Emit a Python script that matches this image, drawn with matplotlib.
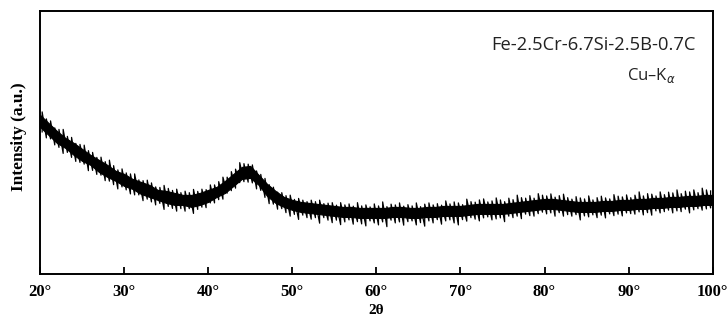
import numpy as np
import matplotlib.pyplot as plt

# XRD pattern (1 degree steps, arbitrary intensity units)
two_theta = np.arange(20, 101)
centre = [153, 145, 137, 131, 125, 119, 114, 108, 103, 98,
          94, 90, 86, 83, 79, 77, 75, 74, 73, 75,
          78, 82, 87, 94, 101, 102, 94, 84, 77, 72,
          69, 67, 66, 65, 64, 63, 62, 62, 61, 61,
          61, 61, 62, 62, 61, 61, 62, 62, 63, 63,
          63, 64, 65, 65, 65, 65, 66, 67, 68, 69,
          70, 70, 69, 68, 67, 67, 67, 68, 68, 69,
          69, 70, 70, 71, 71, 72, 72, 73, 73, 74, 74]
core_halfwidth = [6, 6, 6, 5, 6, 6, 5, 6, 6, 5,
                  6, 5, 6, 6, 5, 6, 6, 5, 6, 6,
                  6, 5, 6, 6, 6, 6, 5, 6, 6, 5,
                  5, 5, 5, 5, 5, 5, 5, 5, 5, 5,
                  5, 5, 5, 5, 5, 5, 5, 5, 5, 5,
                  5, 5, 5, 5, 5, 5, 5, 5, 5, 5,
                  5, 5, 5, 5, 5, 5, 5, 5, 5, 5,
                  5, 5, 5, 5, 5, 5, 5, 5, 5, 5, 5]

# noise spikes every 0.5 deg (20.25 .. 99.75): how far they reach above / below
noise_x = np.arange(20.25, 100, 0.5)
noise_up = [11, 8, 10, 7, 9, 12, 8, 10, 7, 9, 11, 8, 9, 7, 10, 8, 12, 9, 7, 10,
            8, 9, 11, 7, 8, 10, 9, 7, 8, 11, 9, 8, 10, 7, 9, 8, 11, 8, 9, 7,
            10, 8, 9, 11, 8, 10, 9, 12, 9, 8, 9, 7, 8, 9, 7, 8, 6, 8, 7, 9,
            6, 8, 7, 6, 8, 7, 9, 6, 7, 8, 6, 9, 7, 8, 6, 10, 7, 8, 6, 9,
            7, 11, 6, 8, 7, 9, 6, 8, 7, 10, 6, 8, 9, 7, 8, 6, 10, 7, 9, 8,
            6, 11, 8, 7, 9, 10, 7, 8, 11, 9, 7, 10, 8, 12, 9, 8, 10, 7, 11, 9,
            8, 10, 7, 9, 11, 8, 7, 10, 9, 8, 11, 7, 9, 10, 8, 7, 11, 9, 8, 10,
            7, 9, 12, 8, 10, 9, 7, 11, 8, 10, 9, 12, 8, 10, 9, 11, 8, 12, 10, 9]
noise_dn = [9, 11, 8, 10, 9, 12, 8, 10, 11, 9, 8, 12, 9, 10, 8, 11, 9, 10, 12, 8,
            9, 11, 10, 8, 12, 9, 10, 11, 8, 13, 9, 10, 12, 9, 11, 8, 13, 10, 9, 11,
            8, 10, 9, 11, 8, 9, 10, 8, 9, 10, 9, 11, 8, 10, 12, 9, 11, 8, 10, 12,
            9, 13, 8, 10, 11, 9, 14, 8, 10, 12, 9, 13, 10, 8, 12, 9, 11, 13, 8, 10,
            12, 9, 14, 8, 11, 10, 13, 9, 8, 12, 10, 14, 9, 11, 8, 13, 10, 9, 12, 14,
            9, 11, 8, 10, 12, 9, 8, 11, 10, 9, 13, 8, 10, 9, 12, 8, 10, 11, 9, 8,
            10, 9, 12, 8, 11, 9, 10, 8, 13, 9, 10, 8, 11, 9, 12, 8, 10, 9, 11, 8,
            9, 10, 8, 11, 9, 12, 8, 10, 9, 8, 11, 9, 10, 8, 12, 9, 8, 10, 9, 8]

centre = np.array(centre)
hw = np.array(core_halfwidth)

plt.rcParams['font.family'] = 'Liberation Serif'
fig = plt.figure(figsize=(7.28, 3.2), dpi=100)
ax = fig.add_axes([0.055, 0.144, 0.924, 0.822])

# solid core of the trace
ax.fill_between(two_theta, centre - hw, centre + hw, color='k', lw=0.8, edgecolor='k')

# jagged noise: zigzag through the spike tips
base = np.interp(noise_x, two_theta, centre)
zx = np.repeat(noise_x, 2)
zy = np.column_stack([base - np.array(noise_dn), base + np.array(noise_up)]).ravel()
ax.plot(zx, zy, color='k', lw=0.9)

ax.set_xlim(20, 100)
ax.set_ylim(0, 263)
ax.set_xticks(range(20, 101, 10))
ax.set_xticklabels([f'{t}°' for t in range(20, 101, 10)], fontsize=12, fontweight='bold')
ax.set_yticks([])
ax.tick_params(axis='x', direction='in', length=5, width=1.3, pad=7)
for s in ax.spines.values():
    s.set_linewidth(1.4)

ax.set_ylabel('Intensity (a.u.)', fontsize=12.5, fontweight='bold')
ax.yaxis.set_label_coords(-0.02, 0.52)
ax.set_xlabel('2θ', fontsize=11, fontweight='bold', labelpad=3)

ax.text(0.975, 0.872, 'Fe-2.5Cr-6.7Si-2.5B-0.7C', transform=ax.transAxes,
        ha='right', va='center', fontsize=13.2, family='Open Sans', color='#222222')
ax.text(0.945, 0.755, 'Cu–K$_\\alpha$', transform=ax.transAxes,
        ha='right', va='center', fontsize=12, family='Open Sans', color='#222222')

fig.savefig('out.png', dpi=100)
